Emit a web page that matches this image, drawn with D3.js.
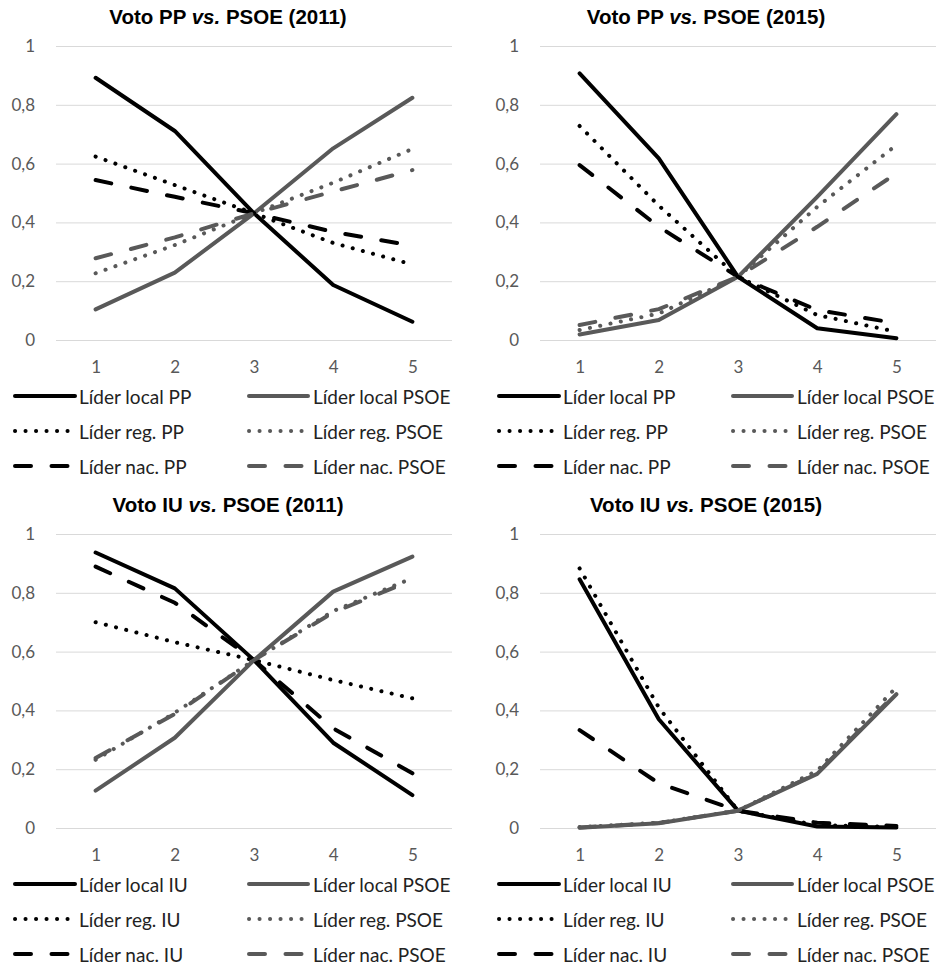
<!DOCTYPE html>
<html>
<head>
<meta charset="utf-8">
<script src="https://cdn.jsdelivr.net/npm/d3@7/dist/d3.min.js"></script>
<style>
  html, body { margin: 0; padding: 0; background: #fff; }
  svg { display: block; }
</style>
</head>
<body>
<svg id="chart" width="938" height="966"></svg>
<script>
// ---------------- DATA ----------------
const categories = [1, 2, 3, 4, 5];
const yTicks = [0, 0.2, 0.4, 0.6, 0.8, 1];

const titlesPre  = ["Voto PP ", "Voto PP ", "Voto IU ", "Voto IU "];
const titlesPost = [" PSOE (2011)", " PSOE (2015)", " PSOE (2011)", " PSOE (2015)"];

const labelsPP = ["Líder local PP", "Líder local PSOE", "Líder reg. PP", "Líder reg. PSOE", "Líder nac. PP", "Líder nac. PSOE"];
const labelsIU = ["Líder local IU", "Líder local PSOE", "Líder reg. IU", "Líder reg. PSOE", "Líder nac. IU", "Líder nac. PSOE"];

// Voto PP vs. PSOE (2011)
const pp11LocalPP   = [0.892, 0.711, 0.431, 0.187, 0.062];
const pp11LocalPSOE = [0.104, 0.229, 0.431, 0.652, 0.824];
const pp11RegPP     = [0.624, 0.527, 0.431, 0.330, 0.257];
const pp11RegPSOE   = [0.227, 0.323, 0.431, 0.535, 0.650];
const pp11NacPP     = [0.544, 0.487, 0.431, 0.368, 0.321];
const pp11NacPSOE   = [0.278, 0.349, 0.431, 0.505, 0.578];

// Voto PP vs. PSOE (2015)
const pp15LocalPP   = [0.907, 0.618, 0.215, 0.040, 0.006];
const pp15LocalPSOE = [0.019, 0.068, 0.215, 0.487, 0.768];
const pp15RegPP     = [0.728, 0.457, 0.215, 0.085, 0.028];
const pp15RegPSOE   = [0.034, 0.090, 0.215, 0.453, 0.663];
const pp15NacPP     = [0.595, 0.385, 0.215, 0.102, 0.057];
const pp15NacPSOE   = [0.051, 0.105, 0.215, 0.385, 0.567];

// Voto IU vs. PSOE (2011)
const iu11LocalIU   = [0.937, 0.815, 0.571, 0.290, 0.112];
const iu11LocalPSOE = [0.127, 0.307, 0.571, 0.804, 0.923];
const iu11RegIU     = [0.700, 0.632, 0.571, 0.503, 0.441];
const iu11RegPSOE   = [0.232, 0.392, 0.571, 0.738, 0.850];
const iu11NacIU     = [0.889, 0.766, 0.571, 0.339, 0.186];
const iu11NacPSOE   = [0.238, 0.388, 0.571, 0.733, 0.843];

// Voto IU vs. PSOE (2015)
const iu15LocalIU   = [0.846, 0.370, 0.059, 0.005, 0.002];
const iu15LocalPSOE = [0.001, 0.016, 0.059, 0.184, 0.455];
const iu15RegIU     = [0.883, 0.410, 0.059, 0.010, 0.004];
const iu15RegPSOE   = [0.003, 0.018, 0.059, 0.195, 0.479];
const iu15NacIU     = [0.333, 0.152, 0.059, 0.018, 0.007];
const iu15NacPSOE   = [0.002, 0.017, 0.059, 0.186, 0.460];

// ---------------- BUILD ----------------
const panels = [
  { pre: titlesPre[0], post: titlesPost[0], labels: labelsPP,
    series: [pp11LocalPP, pp11LocalPSOE, pp11RegPP, pp11RegPSOE, pp11NacPP, pp11NacPSOE] },
  { pre: titlesPre[1], post: titlesPost[1], labels: labelsPP,
    series: [pp15LocalPP, pp15LocalPSOE, pp15RegPP, pp15RegPSOE, pp15NacPP, pp15NacPSOE] },
  { pre: titlesPre[2], post: titlesPost[2], labels: labelsIU,
    series: [iu11LocalIU, iu11LocalPSOE, iu11RegIU, iu11RegPSOE, iu11NacIU, iu11NacPSOE] },
  { pre: titlesPre[3], post: titlesPost[3], labels: labelsIU,
    series: [iu15LocalIU, iu15LocalPSOE, iu15RegIU, iu15RegPSOE, iu15NacIU, iu15NacPSOE] }
];

const offsets = [[0, 0], [484, 0], [0, 488], [484, 488]];

const colors = ["#000000", "#595959"];
const styles = [
  { dash: null,        cap: "round" },
  { dash: "0.1,10.4",  cap: "round" },
  { dash: "16,20.5",   cap: "round" }
];
const lineWidth = 4;

const locale = d3.formatLocale({ decimal: ",", thousands: ".", grouping: [3], currency: ["", "€"] });
const fmt = locale.format("");

const svg = d3.select("#chart");

const x = d3.scalePoint().domain(categories).range([56, 452]).padding(0.5);
const y = d3.scaleLinear().domain([0, 1]).range([340, 46]);

const line = d3.line().x((d, i) => x(categories[i])).y(d => y(d));

const textFont = "Lato, 'Open Sans', sans-serif";

panels.forEach((p, pi) => {
  const g = svg.append("g").attr("transform", `translate(${offsets[pi][0]},${offsets[pi][1]})`);

  // title
  const t = g.append("text")
    .attr("x", pi % 2 === 0 ? 228 : 222)
    .attr("y", 24)
    .attr("text-anchor", "middle")
    .style("font-family", "'Liberation Sans', Arial, sans-serif")
    .style("font-weight", "bold")
    .style("font-size", "20.5px")
    .style("fill", "#000");
  t.append("tspan").text(p.pre);
  t.append("tspan").style("font-style", "italic").text("vs.");
  t.append("tspan").text(p.post);

  // y axis with gridlines
  const yAxis = d3.axisLeft(y).tickValues(yTicks).tickFormat(fmt)
    .tickSize(-(452 - 56)).tickPadding(21);
  const ya = g.append("g").attr("transform", "translate(56,0)").call(yAxis);
  ya.select(".domain").remove();
  ya.selectAll(".tick line").attr("stroke", "#d9d9d9").attr("stroke-width", 1);
  ya.selectAll(".tick text")
    .style("font-family", textFont).style("font-size", "17px").style("fill", "#595959");

  // x axis labels
  const xAxis = d3.axisBottom(x).tickSize(0).tickPadding(22);
  const xa = g.append("g").attr("transform", "translate(0,340)").call(xAxis);
  xa.select(".domain").remove();
  xa.selectAll(".tick text")
    .attr("y", 33).attr("dy", 0)
    .style("font-family", textFont).style("font-size", "17px").style("fill", "#595959");

  // lines
  p.series.forEach((s, si) => {
    const st = styles[Math.floor(si / 2)];
    g.append("path")
      .datum(s)
      .attr("d", line)
      .attr("fill", "none")
      .attr("stroke", colors[si % 2])
      .attr("stroke-width", lineWidth)
      .attr("stroke-linecap", st.cap)
      .attr("stroke-linejoin", "round")
      .attr("stroke-dasharray", st.dash);
  });

  // legend
  const legendRows = [396, 431, 466];
  const legendCols = [[15, 75, 79], [249, 308, 313]];
  p.labels.forEach((lab, si) => {
    const st = styles[Math.floor(si / 2)];
    const col = legendCols[si % 2];
    const ry = legendRows[Math.floor(si / 2)];
    g.append("line")
      .attr("x1", col[0]).attr("x2", col[1])
      .attr("y1", ry).attr("y2", ry)
      .attr("stroke", colors[si % 2])
      .attr("stroke-width", lineWidth)
      .attr("stroke-linecap", st.cap)
      .attr("stroke-dasharray", st.dash);
    g.append("text")
      .attr("x", col[2]).attr("y", ry)
      .attr("dominant-baseline", "central")
      .style("font-family", textFont).style("font-size", "19px").style("fill", "#222")
      .text(lab);
  });
});
</script>
</body>
</html>
